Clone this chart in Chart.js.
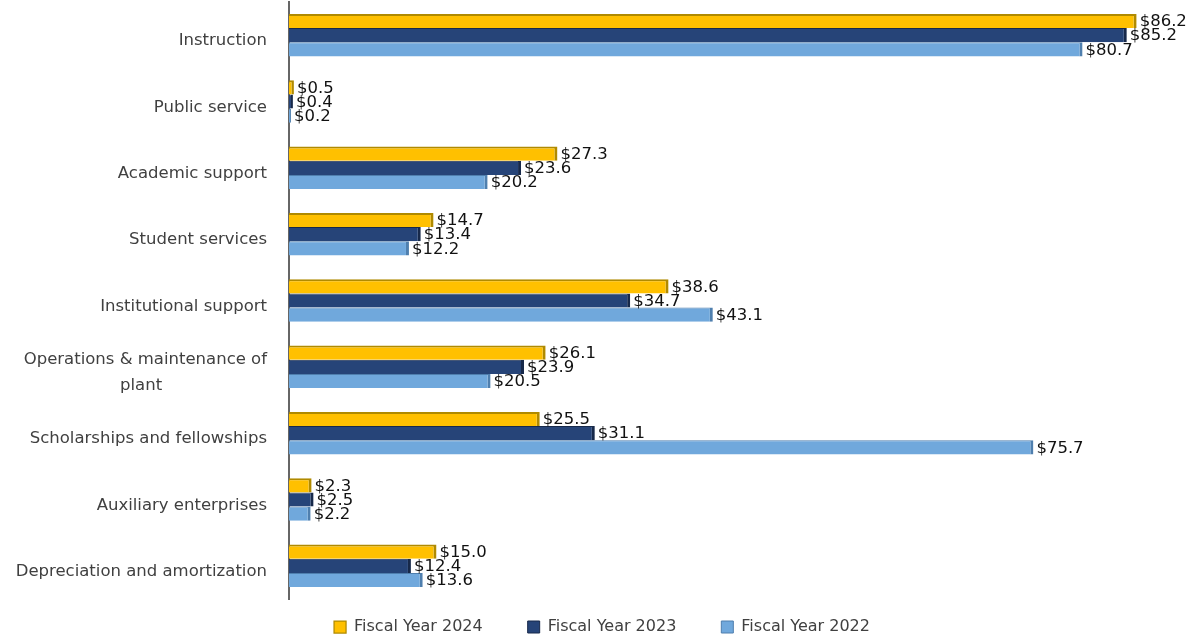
<!DOCTYPE html>
<html>
<head>
<meta charset="utf-8">
<script src="https://cdn.jsdelivr.net/npm/chart.js@4"></script>
<style>
  html, body { margin: 0; padding: 0; background: #fff; }
  #wrap { width: 1194px; height: 636px; }
</style>
</head>
<body>
<div id="wrap"><canvas id="expenseChart" width="1194" height="636"></canvas></div>
<script>
// ─────────────────────────────────────
// DATA
// ─────────────────────────────────────

const categories = [
    "Instruction",
    "Public service",
    "Academic support",
    "Student services",
    "Institutional support",
    ["Operations & maintenance of", "plant"],
    "Scholarships and fellowships",
    "Auxiliary enterprises",
    "Depreciation and amortization"
];

const fy2024 = [86.2, 0.5, 27.3, 14.7, 38.6, 26.1, 25.5, 2.3, 15.0];
const fy2023 = [85.2, 0.4, 23.6, 13.4, 34.7, 23.9, 31.1, 2.5, 12.4];
const fy2022 = [80.7, 0.2, 20.2, 12.2, 43.1, 20.5, 75.7, 2.2, 13.6];

const seriesNames = ["Fiscal Year 2024", "Fiscal Year 2023", "Fiscal Year 2022"];

const LEGEND_GAP = 45;


// ─────────────────────────────────────
// VALUE LABELS PLUGIN
// ─────────────────────────────────────

const valueLabels = {
    id: "valueLabels",
    afterDatasetsDraw(chart) {
        const ctx = chart.ctx;
        ctx.save();
        ctx.font = "16.5px 'DejaVu Sans'";
        ctx.fillStyle = "#111";
        ctx.textAlign = "left";
        ctx.textBaseline = "middle";
        chart.data.datasets.forEach((ds, i) => {
            const meta = chart.getDatasetMeta(i);
            meta.data.forEach((bar, j) => {
                ctx.fillText("$" + ds.data[j].toFixed(1), bar.x + 3, bar.y + 1);
            });
        });
        ctx.restore();
    }
};


// ─────────────────────────────────────
// LEGEND: wide gaps but short box
// ─────────────────────────────────────

const legendFit = {
    id: "legendFit",
    afterInit(chart) {
        const legend = chart.legend;
        const fit = legend.fit.bind(legend);
        legend.fit = function () {
            fit();
            this.height = 37;
        };
    },
    afterLayout(chart) {
        // pull the items up so they sit inside the short box
        chart.legend.top = 619 - LEGEND_GAP;
        chart.legend.left += 15;
        chart.legend.right += 15;
    }
};


// ─────────────────────────────────────
// BAR CHART
// ─────────────────────────────────────

new Chart(document.getElementById("expenseChart"), {

    type: "bar",

    data: {
        labels: categories,
        datasets: [
            {
                label: seriesNames[0],
                data: fy2024,
                backgroundColor: "#FFC000",
                borderColor: "#B08A00",
                borderWidth: { top: 2, right: 3, bottom: 0, left: 0 },
                borderSkipped: "left"
            },
            {
                label: seriesNames[1],
                data: fy2023,
                backgroundColor: "#264478",
                borderColor: "#17294a",
                borderWidth: { top: 1, right: 3, bottom: 0, left: 0 },
                borderSkipped: "left"
            },
            {
                label: seriesNames[2],
                data: fy2022,
                backgroundColor: "#70A8DC",
                borderColor: "#4f7fae",
                borderWidth: { top: 1, right: 3, bottom: 0, left: 0 },
                borderSkipped: "left"
            }
        ]
    },

    options: {
        indexAxis: "y",
        responsive: false,
        animation: false,
        categoryPercentage: 0.64,
        barPercentage: 1.0,
        layout: {
            padding: { top: 2, right: 20, bottom: 0, left: 0 }
        },
        plugins: {
            legend: {
                position: "bottom",
                labels: {
                    boxWidth: 12,
                    boxHeight: 12,
                    padding: LEGEND_GAP,
                    color: "#404040",
                    font: { family: "DejaVu Sans", size: 16 }
                }
            },
            tooltip: { enabled: false }
        },
        scales: {
            x: {
                display: false,
                min: 0,
                max: 90
            },
            y: {
                grid: { display: false },
                border: { display: true, color: "#666", width: 2 },
                afterFit(scale) {
                    scale.width = 289;
                    scale.paddingTop = 0;
                    scale.paddingBottom = 0;
                },
                ticks: {
                    color: "#404040",
                    padding: 14,
                    labelOffset: 6,
                    font: { family: "DejaVu Sans", size: 16.5, lineHeight: 1.6 },
                    callback: function (value) {
                        const lab = this.getLabelForValue(value);
                        if (Array.isArray(lab)) {
                            // second line sits centred under the first one
                            return [lab[0], lab[1] + " ".repeat(20)];
                        }
                        return lab;
                    }
                }
            }
        }
    },

    plugins: [valueLabels, legendFit]
});
</script>
</body>
</html>
